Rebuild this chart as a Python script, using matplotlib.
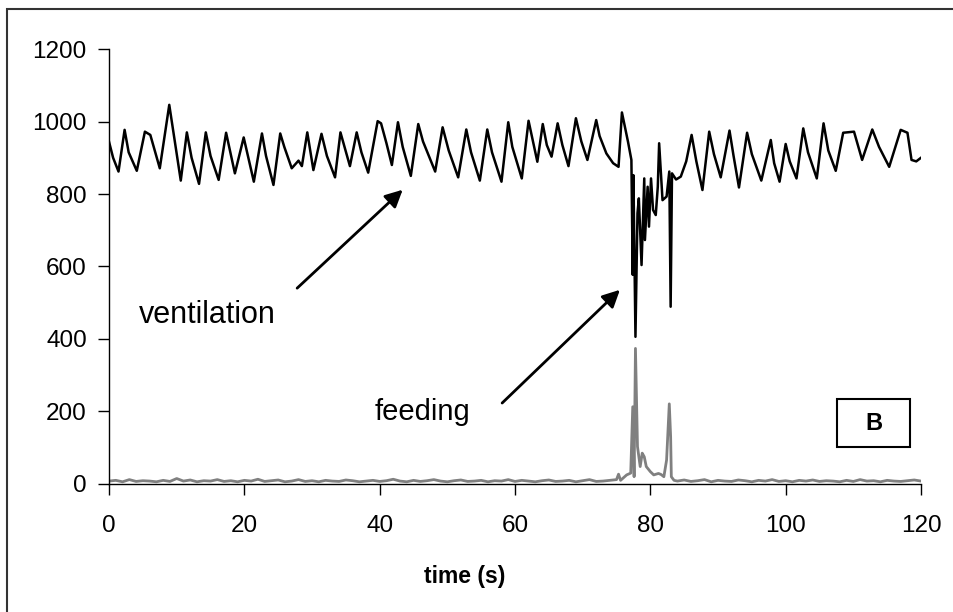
import matplotlib.pyplot as plt
from matplotlib.patches import Rectangle

plt.rcParams["font.family"] = ["Liberation Sans", "DejaVu Sans"]

# ventilation trace (black): turning points
vent_t = [0.0, 0.6, 1.4, 2.3, 2.9, 4.1, 5.3, 6.1, 7.5, 8.3, 8.9, 10.6, 11.5,
          12.2, 13.3, 14.3, 15.0, 16.2, 17.3, 18.6, 19.9, 21.4, 22.6, 23.2,
          24.3, 25.3, 25.9, 27.0, 28.0, 28.5, 29.3, 30.2, 31.4, 32.2, 33.4,
          34.2, 35.6, 36.6, 37.3, 38.3, 39.7, 40.2, 41.0, 41.8, 42.7, 43.4,
          44.6, 45.7, 46.4, 48.2, 49.3, 50.2, 51.6, 52.8, 53.5, 54.8, 55.9,
          56.6, 58.0, 59.0, 59.6, 61.0, 62.0, 62.6, 63.3, 64.1, 64.7, 65.4,
          66.3, 67.0, 67.9, 69.0, 69.8, 70.7, 72.0, 72.5, 73.5, 74.5, 75.3,
          75.8, 76.7, 77.2, 77.4, 77.5, 77.8, 78.1, 78.3, 78.7, 79.1, 79.2,
          79.6, 79.8, 80.1, 80.4, 80.8, 81.1, 81.3, 81.8, 82.4, 82.8, 83.0,
          83.2, 83.8, 84.5, 85.3, 86.1, 86.8, 87.7, 88.7, 89.4, 90.4, 91.7,
          92.3, 93.1, 94.3, 95.0, 96.4, 97.8, 98.3, 99.1, 100.0, 100.6,
          101.6, 102.6, 103.3, 104.6, 105.6, 106.3, 107.4, 108.5, 110.1,
          111.3, 112.8, 113.8, 115.3, 117.0, 118.0, 118.6, 119.3, 120.0]
vent_v = [944, 900, 862, 977, 915, 864, 972, 963, 871, 972, 1046, 837, 970,
          900, 828, 970, 905, 839, 969, 857, 956, 834, 967, 905,
          825, 967, 930, 871, 892, 877, 970, 866, 966, 905, 846,
          970, 877, 970, 915, 859, 1001, 995, 940, 880, 998, 930,
          850, 993, 945, 862, 984, 920, 846, 978, 915, 837, 978,
          915, 834, 998, 930, 843, 1002, 950, 889, 993, 935, 903,
          995, 935, 877, 1009, 945, 894, 1004, 960, 912, 885, 875,
          1025, 944, 894, 577, 852, 406, 747, 788, 604, 843, 673,
          820, 710, 843, 756, 742, 820, 940, 783, 793, 862, 489,
          857, 840, 848, 890, 963, 890, 811, 972, 910, 846, 975,
          905, 818, 969, 910, 837, 949, 885, 834, 938, 890,
          843, 981, 915, 843, 995, 920, 864, 969, 972,
          894, 978, 930, 875, 977, 969, 894, 890, 900]

# feeding trace (grey)
feed_t = [0, 1, 2, 3, 4, 5, 6, 7, 8, 9, 10, 11, 12, 13, 14, 15, 16, 17, 18,
          19, 20, 21, 22, 23, 24, 25, 26, 27, 28, 29, 30, 31, 32, 33, 34, 35,
          36, 37, 38, 39, 40, 41, 42, 43, 44, 45, 46, 47, 48, 49, 50, 51, 52,
          53, 54, 55, 56, 57, 58, 59, 60, 61, 62, 63, 64, 65, 66, 67, 68, 69,
          70, 71, 72, 73, 74, 75.0, 75.3, 75.6, 76.5, 77.1, 77.4, 77.6, 77.8,
          78.1, 78.3, 78.5, 78.8, 79.1, 79.4, 80.0, 80.5, 81.2, 81.6, 82.0,
          82.4, 82.8, 83.0, 83.1, 83.5, 84, 85, 86, 87, 88, 89, 90, 91, 92,
          93, 94, 95, 96, 97, 98, 99, 100, 101, 102, 103, 104, 105, 106, 107,
          108, 109, 110, 111, 112, 113, 114, 115, 116, 117, 118, 119, 120]
feed_v = [8, 10, 6, 12, 7, 9, 8, 6, 10, 7, 15, 8, 11, 6, 9, 8, 12, 7, 9, 6,
          10, 8, 13, 7, 9, 11, 6, 8, 12, 7, 9, 6, 10, 8, 7, 11, 9, 6, 8, 10,
          7, 9, 13, 8, 6, 10, 7, 9, 12, 8, 6, 9, 11, 7, 8, 10, 6, 9, 8, 12,
          7, 10, 8, 6, 9, 11, 7, 8, 10, 6, 9, 12, 7, 8, 10, 12, 27, 10, 25,
          30, 213, 20, 374, 103, 75, 48, 85, 75, 48, 34, 25, 29, 26, 20,
          66, 221, 130, 20, 10, 8, 11, 7, 9, 12, 6, 10, 8, 7, 11, 9, 6, 10,
          8, 12, 7, 9, 6, 10, 8, 11, 7, 9, 8, 6, 10, 7, 12, 8, 9, 6, 10, 8,
          7, 9, 11, 8]

fig = plt.figure(figsize=(9.54, 6.12), dpi=100)
ax = fig.add_axes([0.1143, 0.2092, 0.8511, 0.7107])

ax.plot(feed_t, feed_v, color="#808080", lw=2.0, zorder=2)
ax.plot(vent_t, vent_v, color="black", lw=1.8, zorder=3)

ax.set_xlim(0, 120)
ax.set_ylim(0, 1200)
ax.set_xticks(range(0, 121, 20))
ax.set_yticks(range(0, 1201, 200))
ax.spines["top"].set_visible(False)
ax.spines["right"].set_visible(False)
ax.spines["left"].set_linewidth(1.0)
ax.spines["bottom"].set_linewidth(1.0)
ax.tick_params(direction="out", length=8, width=1, labelsize=17.5)
ax.tick_params(axis="y", pad=8)
ax.tick_params(axis="x", pad=14)

fig.text(465 / 954, 1 - 576 / 612, "time (s)", fontsize=16.5,
         fontweight="bold", ha="center", va="center")

# annotations
ax.text(14.5, 466, "ventilation", fontsize=22, ha="center", va="center")
ax.annotate("", xy=(43.7, 817), xytext=(27.5, 535),
            arrowprops=dict(arrowstyle="-|>", lw=2, color="black",
                            mutation_scale=26))
ax.text(46.3, 199, "feeding", fontsize=21, ha="center", va="center")
ax.annotate("", xy=(75.8, 541), xytext=(57.8, 218),
            arrowprops=dict(arrowstyle="-|>", lw=2, color="black",
                            mutation_scale=26))

# panel label box
fig.patches.append(Rectangle((837 / 954, 1 - 447 / 612), 73 / 954, 48 / 612,
                             transform=fig.transFigure, fill=False,
                             edgecolor="black", lw=1.5))
fig.text(873.5 / 954, 1 - 424 / 612, "B", fontsize=17, fontweight="bold",
         ha="center", va="center")

# outer frame
fig.patches.append(Rectangle((7 / 954, -0.05), 1.2, 1 - 9 / 612 + 0.05,
                             transform=fig.transFigure, fill=False,
                             edgecolor="#333333", lw=1.5))

fig.savefig("out.png", dpi=100)
